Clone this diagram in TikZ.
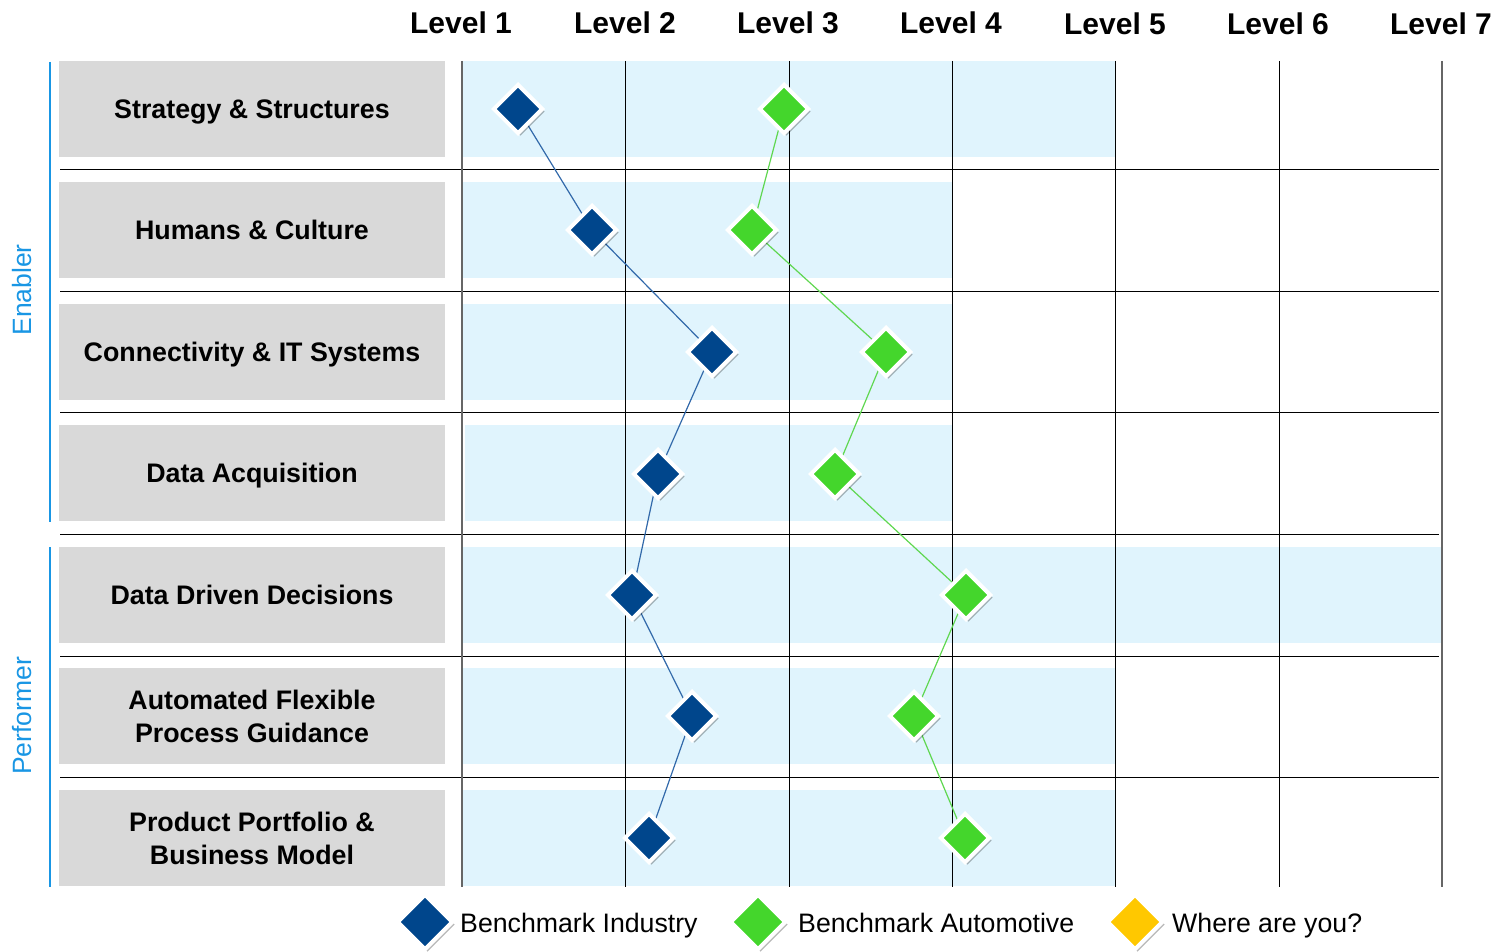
\documentclass[tikz,border=0pt]{standalone}
\usepackage{fontspec}
\setmainfont{Liberation Sans}
\usetikzlibrary{shapes.geometric,shadows}
\definecolor{indblue}{RGB}{0,70,140}
\definecolor{autogreen}{RGB}{68,214,44}
\definecolor{youyellow}{RGB}{255,200,0}
\definecolor{lightcell}{RGB}{224,244,253}
\definecolor{labelgray}{RGB}{217,217,217}
\definecolor{groupblue}{RGB}{25,150,228}
\definecolor{indline}{RGB}{50,105,170}
\definecolor{autoline}{RGB}{95,215,80}
\pgfdeclarelayer{bg}
\pgfdeclarelayer{mid}
\pgfsetlayers{bg,mid,main}
\newcommand{\oneline}[1]{\raisebox{-9.5pt}[0pt][0pt]{#1}}
\begin{document}
\begin{tikzpicture}[x=1pt,y=-1pt,
  rowlabel/.style={fill=labelgray, minimum width=386pt, minimum height=96pt, inner sep=0pt, align=center, font=\bfseries\fontsize{26.8}{33}\selectfont},
  levellabel/.style={anchor=base, inner sep=0pt, font=\bfseries\fontsize{30}{36}\selectfont},
  grouplabel/.style={rotate=90, inner sep=0pt, text=groupblue, font=\fontsize{26.5}{30}\selectfont},
  groupline/.style={draw=groupblue, line width=1.3pt},
  cellfill/.style={fill=lightcell},
  gridline/.style={draw=black, line width=0.9pt},
  edgeline/.style={draw=black!60, line width=1.4pt},
  bench/.style={diamond, aspect=1, minimum width=50pt, minimum height=50pt, inner sep=0pt, draw=white, line width=4pt, drop shadow={shadow xshift=2.5pt, shadow yshift=-2.5pt, fill=black, opacity=0.28}},
  indmark/.style={bench, fill=indblue},
  automark/.style={bench, fill=autogreen},
  youmark/.style={bench, fill=youyellow},
  legmark/.style={minimum width=56pt, minimum height=56pt},
  legtext/.style={anchor=base west, inner sep=0pt, font=\fontsize{26.7}{30}\selectfont},
  indconn/.style={draw=indline, line width=1.2pt},
  autoconn/.style={draw=autoline, line width=1.2pt}
]
\useasboundingbox (0,0) rectangle (1510,952);

% background grid
\begin{pgfonlayer}{bg}
  \fill[cellfill] (462,61) rectangle (1115,157);
  \fill[cellfill] (462,182) rectangle (952,278);
  \fill[cellfill] (462,304) rectangle (952,400);
  \fill[cellfill] (465,425) rectangle (952,521);
  \fill[cellfill] (462,547) rectangle (1442,643);
  \fill[cellfill] (462,668) rectangle (1115,764);
  \fill[cellfill] (462,790) rectangle (1115,886);
  \foreach \yy in {169,291,412,534,656,777}
    \draw[gridline] (60,\yy) -- (1439,\yy);
  \foreach \xx in {625,789,952,1115,1279}
    \draw[gridline] (\xx,61) -- (\xx,887);
  \draw[edgeline] (462,61) -- (462,887);
  \draw[edgeline] (1442,61) -- (1442,887);
\end{pgfonlayer}

% level headers
\node[levellabel] (l1) at (461,34) {Level 1};
\node[levellabel] (l2) at (625,34) {Level 2};
\node[levellabel] (l3) at (788,34) {Level 3};
\node[levellabel] (l4) at (951,34) {Level 4};
\node[levellabel] (l5) at (1115,35) {Level 5};
\node[levellabel] (l6) at (1278,35) {Level 6};
\node[levellabel] (l7) at (1441,35) {Level 7};

% row label boxes and texts
\node[rowlabel] (r1) at (252,109) {\oneline{Strategy \& Structures}};
\node[rowlabel] (r2) at (252,230) {\oneline{Humans \& Culture}};
\node[rowlabel] (r3) at (252,352) {\oneline{Connectivity \& IT Systems}};
\node[rowlabel] (r4) at (252,473) {\oneline{Data Acquisition}};
\node[rowlabel] (r5) at (252,595) {\oneline{Data Driven Decisions}};
\node[rowlabel] (r6) at (252,716) {Automated Flexible\\Process Guidance};
\node[rowlabel] (r7) at (252,838) {Product Portfolio \&\\Business Model};

% group brackets
\draw[groupline] (50,62) -- (50,522);
\draw[groupline] (50,547) -- (50,887);
\node[grouplabel] (enabler) at (22,290) {Enabler};
\node[grouplabel] (performer) at (22,716) {Performer};

% benchmark industry
\node[indmark] (i1) at (518,109) {};
\node[indmark] (i2) at (592,230) {};
\node[indmark] (i3) at (712,352) {};
\node[indmark] (i4) at (658,474) {};
\node[indmark] (i5) at (632,595) {};
\node[indmark] (i6) at (692,716) {};
\node[indmark] (i7) at (649,838) {};

% benchmark automotive
\node[automark] (a1) at (784,109) {};
\node[automark] (a2) at (752,230) {};
\node[automark] (a3) at (886,352) {};
\node[automark] (a4) at (835,474) {};
\node[automark] (a5) at (966,595) {};
\node[automark] (a6) at (914,716) {};
\node[automark] (a7) at (965,838) {};

\begin{pgfonlayer}{mid}
  \draw[indconn] (i1.center) -- (i2.center) -- (i3.center) -- (i4.center) -- (i5.center) -- (i6.center) -- (i7.center);
  \draw[autoconn] (a1.center) -- (a2.center) -- (a3.center) -- (a4.center) -- (a5.center) -- (a6.center) -- (a7.center);
\end{pgfonlayer}

% legend
\node[indmark, legmark] (legi) at (425,922) {};
\node[legtext] (legitext) at (460,932) {Benchmark Industry};
\node[automark, legmark] (lega) at (758,922) {};
\node[legtext] (legatext) at (798,932) {Benchmark Automotive};
\node[youmark, legmark] (legy) at (1135,922) {};
\node[legtext] (legytext) at (1172,932) {Where are you?};
\end{tikzpicture}
\end{document}
